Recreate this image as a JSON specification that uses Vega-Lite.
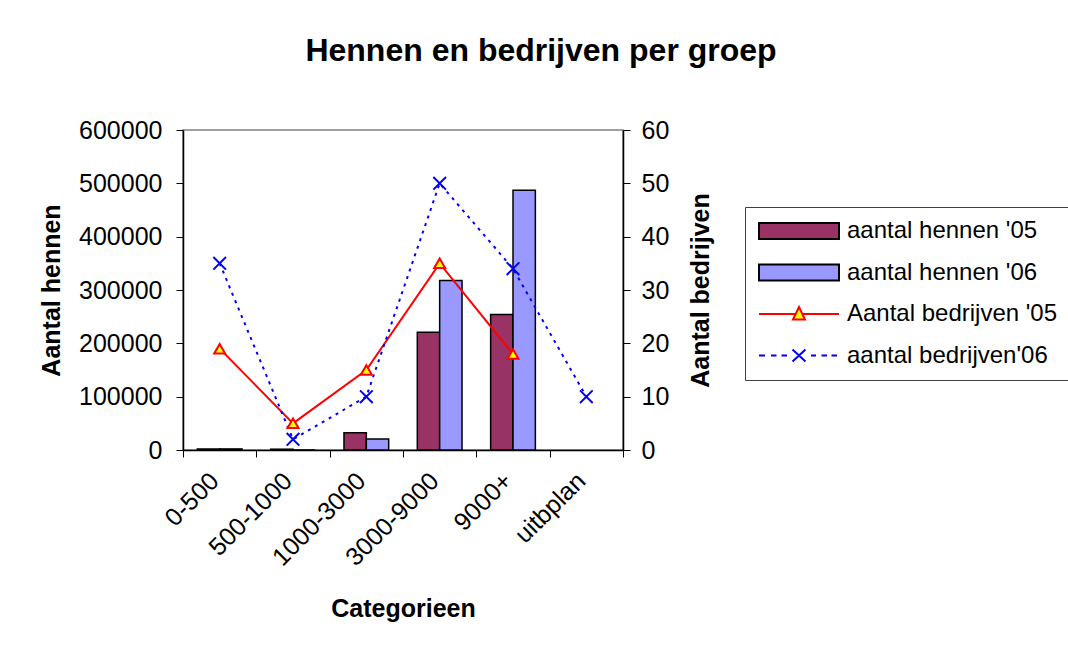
{
  "$schema": "https://vega.github.io/schema/vega-lite/v6.json",
  "autosize": "none",
  "width": 440,
  "height": 320,
  "padding": {"left": 183, "top": 130, "right": 445, "bottom": 204},
  "background": "white",
  "title": {
    "text": "Hennen en bedrijven per groep",
    "font": "Liberation Sans",
    "fontSize": 32,
    "fontWeight": "bold",
    "color": "black",
    "anchor": "middle",
    "dx": 138,
    "offset": 50
  },
  "datasets": {
    "rijen": [
      {"categorie": "0-500", "reeks": "aantal hennen '05", "waarde": 2000},
      {"categorie": "500-1000", "reeks": "aantal hennen '05", "waarde": 1500},
      {"categorie": "1000-3000", "reeks": "aantal hennen '05", "waarde": 32500},
      {"categorie": "3000-9000", "reeks": "aantal hennen '05", "waarde": 221000},
      {"categorie": "9000+", "reeks": "aantal hennen '05", "waarde": 254000},
      {"categorie": "0-500", "reeks": "aantal hennen '06", "waarde": 2000},
      {"categorie": "500-1000", "reeks": "aantal hennen '06", "waarde": 0},
      {"categorie": "1000-3000", "reeks": "aantal hennen '06", "waarde": 20500},
      {"categorie": "3000-9000", "reeks": "aantal hennen '06", "waarde": 318000},
      {"categorie": "9000+", "reeks": "aantal hennen '06", "waarde": 487000},
      {"categorie": "0-500", "reeks": "Aantal bedrijven '05", "waarde": 19},
      {"categorie": "500-1000", "reeks": "Aantal bedrijven '05", "waarde": 5},
      {"categorie": "1000-3000", "reeks": "Aantal bedrijven '05", "waarde": 15},
      {"categorie": "3000-9000", "reeks": "Aantal bedrijven '05", "waarde": 35},
      {"categorie": "9000+", "reeks": "Aantal bedrijven '05", "waarde": 18},
      {"categorie": "0-500", "reeks": "aantal bedrijven'06", "waarde": 35},
      {"categorie": "500-1000", "reeks": "aantal bedrijven'06", "waarde": 2},
      {"categorie": "1000-3000", "reeks": "aantal bedrijven'06", "waarde": 10},
      {"categorie": "3000-9000", "reeks": "aantal bedrijven'06", "waarde": 50},
      {"categorie": "9000+", "reeks": "aantal bedrijven'06", "waarde": 34},
      {"categorie": "uitbplan", "reeks": "aantal bedrijven'06", "waarde": 10}
    ]
  },
  "data": {"name": "rijen"},
  "config": {
    "view": {"stroke": "#808080", "strokeWidth": 1.5},
    "font": "Liberation Sans",
    "axis": {
      "domainColor": "black",
      "domainWidth": 1.5,
      "tickColor": "black",
      "tickSize": 7,
      "tickWidth": 1,
      "labelFont": "Liberation Sans",
      "labelFontSize": 25,
      "labelColor": "black",
      "titleFont": "Liberation Sans",
      "titleFontSize": 25,
      "titleFontWeight": "bold",
      "titleColor": "black",
      "grid": false
    },
    "legend": {
      "orient": "none",
      "legendX": 562,
      "legendY": 77,
      "labelFont": "Liberation Sans",
      "labelFontSize": 24,
      "labelColor": "black",
      "labelLimit": 400,
      "symbolSize": 400,
      "symbolStrokeWidth": 2,
      "labelOffset": 66,
      "rowPadding": 17.5,
      "padding": 12,
      "strokeColor": "#404040",
      "fillColor": "white"
    }
  },
  "layer": [
    {
      "transform": [{"filter": {"field": "reeks", "oneOf": ["aantal hennen '05", "aantal hennen '06"]}}],
      "mark": {"type": "bar", "stroke": "black", "strokeWidth": 1.5, "opacity": 1},
      "encoding": {
        "x": {
          "field": "categorie",
          "type": "nominal",
          "scale": {"domain": ["0-500", "500-1000", "1000-3000", "3000-9000", "9000+", "uitbplan"], "paddingInner": 0, "paddingOuter": 0},
          "axis": {
            "title": "Categorieen",
            "labelAngle": -45,
            "labelAlign": "right",
            "labelBaseline": "top",
            "labelPadding": 11,
            "labelOffset": -14,
            "tickBand": "extent",
            "titlePadding": 26
          }
        },
        "xOffset": {
          "field": "reeks",
          "type": "nominal",
          "scale": {"domain": ["aantal hennen '05", "aantal hennen '06"], "paddingOuter": 0.64, "paddingInner": 0}
        },
        "y": {
          "field": "waarde",
          "type": "quantitative",
          "scale": {"domain": [0, 600000], "nice": false},
          "axis": {
            "title": "Aantal hennen",
            "orient": "left",
            "values": [0, 100000, 200000, 300000, 400000, 500000, 600000],
            "format": "d",
            "labelPadding": 14,
            "titlePadding": 14
          }
        },
        "color": {
          "field": "reeks",
          "type": "nominal",
          "scale": {
            "domain": ["aantal hennen '05", "aantal hennen '06"],
            "range": ["#993366", "#9999FF"]
          },
          "legend": null
        }
      }
    },
    {
      "layer": [
        {
          "transform": [{"filter": {"field": "reeks", "equal": "Aantal bedrijven '05"}}],
          "mark": {"type": "line", "strokeWidth": 2, "color": "#FF0000"},
          "encoding": {
            "x": {"field": "categorie", "type": "nominal"},
            "y": {
              "field": "waarde",
              "type": "quantitative",
              "scale": {"domain": [0, 60], "nice": false},
              "axis": {
                "title": "Aantal bedrijven",
                "orient": "right",
                "values": [0, 10, 20, 30, 40, 50, 60],
                "labelPadding": 11,
                "titleAngle": 270,
                "titleBaseline": "top",
                "titlePadding": 20
              }
            }
          }
        },
        {
          "transform": [{"filter": {"field": "reeks", "equal": "aantal bedrijven'06"}}],
          "mark": {"type": "line", "strokeWidth": 2, "strokeDash": [3, 5], "color": "#0000FF"},
          "encoding": {
            "x": {"field": "categorie", "type": "nominal"},
            "y": {"field": "waarde", "type": "quantitative"}
          }
        },
        {
          "transform": [{"filter": {"field": "reeks", "equal": "Aantal bedrijven '05"}}],
          "mark": {"type": "point", "shape": "triangle-up", "filled": true, "fill": "#FFFF00", "stroke": "#FF0000", "strokeWidth": 2, "size": 120, "opacity": 1},
          "encoding": {
            "x": {"field": "categorie", "type": "nominal"},
            "y": {"field": "waarde", "type": "quantitative"}
          }
        },
        {
          "transform": [{"filter": {"field": "reeks", "equal": "aantal bedrijven'06"}}],
          "mark": {"type": "point", "shape": "M-1,-1L1,1M-1,1L1,-1", "filled": false, "stroke": "#0000FF", "strokeWidth": 2, "size": 160, "opacity": 1},
          "encoding": {
            "x": {"field": "categorie", "type": "nominal"},
            "y": {"field": "waarde", "type": "quantitative"}
          }
        },
        {
          "transform": [{"filter": {"field": "reeks", "equal": "geen reeks"}}],
          "mark": {"type": "point", "filled": true, "strokeWidth": 2, "opacity": 1},
          "encoding": {
            "x": {"field": "categorie", "type": "nominal"},
            "y": {"field": "waarde", "type": "quantitative"},
            "shape": {
              "field": "reeks",
              "type": "nominal",
              "scale": {
                "domain": ["aantal hennen '05", "aantal hennen '06", "Aantal bedrijven '05", "aantal bedrijven'06"],
                "range": [
                  "M-1,-0.8H7V0.8H-1Z",
                  "M-1,-0.8H7V0.8H-1Z",
                  "M-1,0H2.66M3.34,0H7M2.4,0.55L3,-0.7L3.6,0.55Z",
                  "M-1,0H-0.4M0.2,0H0.75M1.25,0H1.8M2.35,-0.6L3.65,0.6M2.35,0.6L3.65,-0.6M4.2,0H4.7M5.25,0H5.8M6.25,0H6.8"
                ]
              },
              "legend": {"title": null}
            },
            "fill": {
              "field": "reeks",
              "type": "nominal",
              "scale": {
                "domain": ["aantal hennen '05", "aantal hennen '06", "Aantal bedrijven '05", "aantal bedrijven'06"],
                "range": ["#993366", "#9999FF", "#FFFF00", "transparent"]
              },
              "legend": {"title": null}
            },
            "stroke": {
              "field": "reeks",
              "type": "nominal",
              "scale": {
                "domain": ["aantal hennen '05", "aantal hennen '06", "Aantal bedrijven '05", "aantal bedrijven'06"],
                "range": ["black", "black", "#FF0000", "#0000FF"]
              },
              "legend": {"title": null}
            }
          }
        }
      ]
    }
  ],
  "resolve": {"scale": {"y": "independent"}}
}
